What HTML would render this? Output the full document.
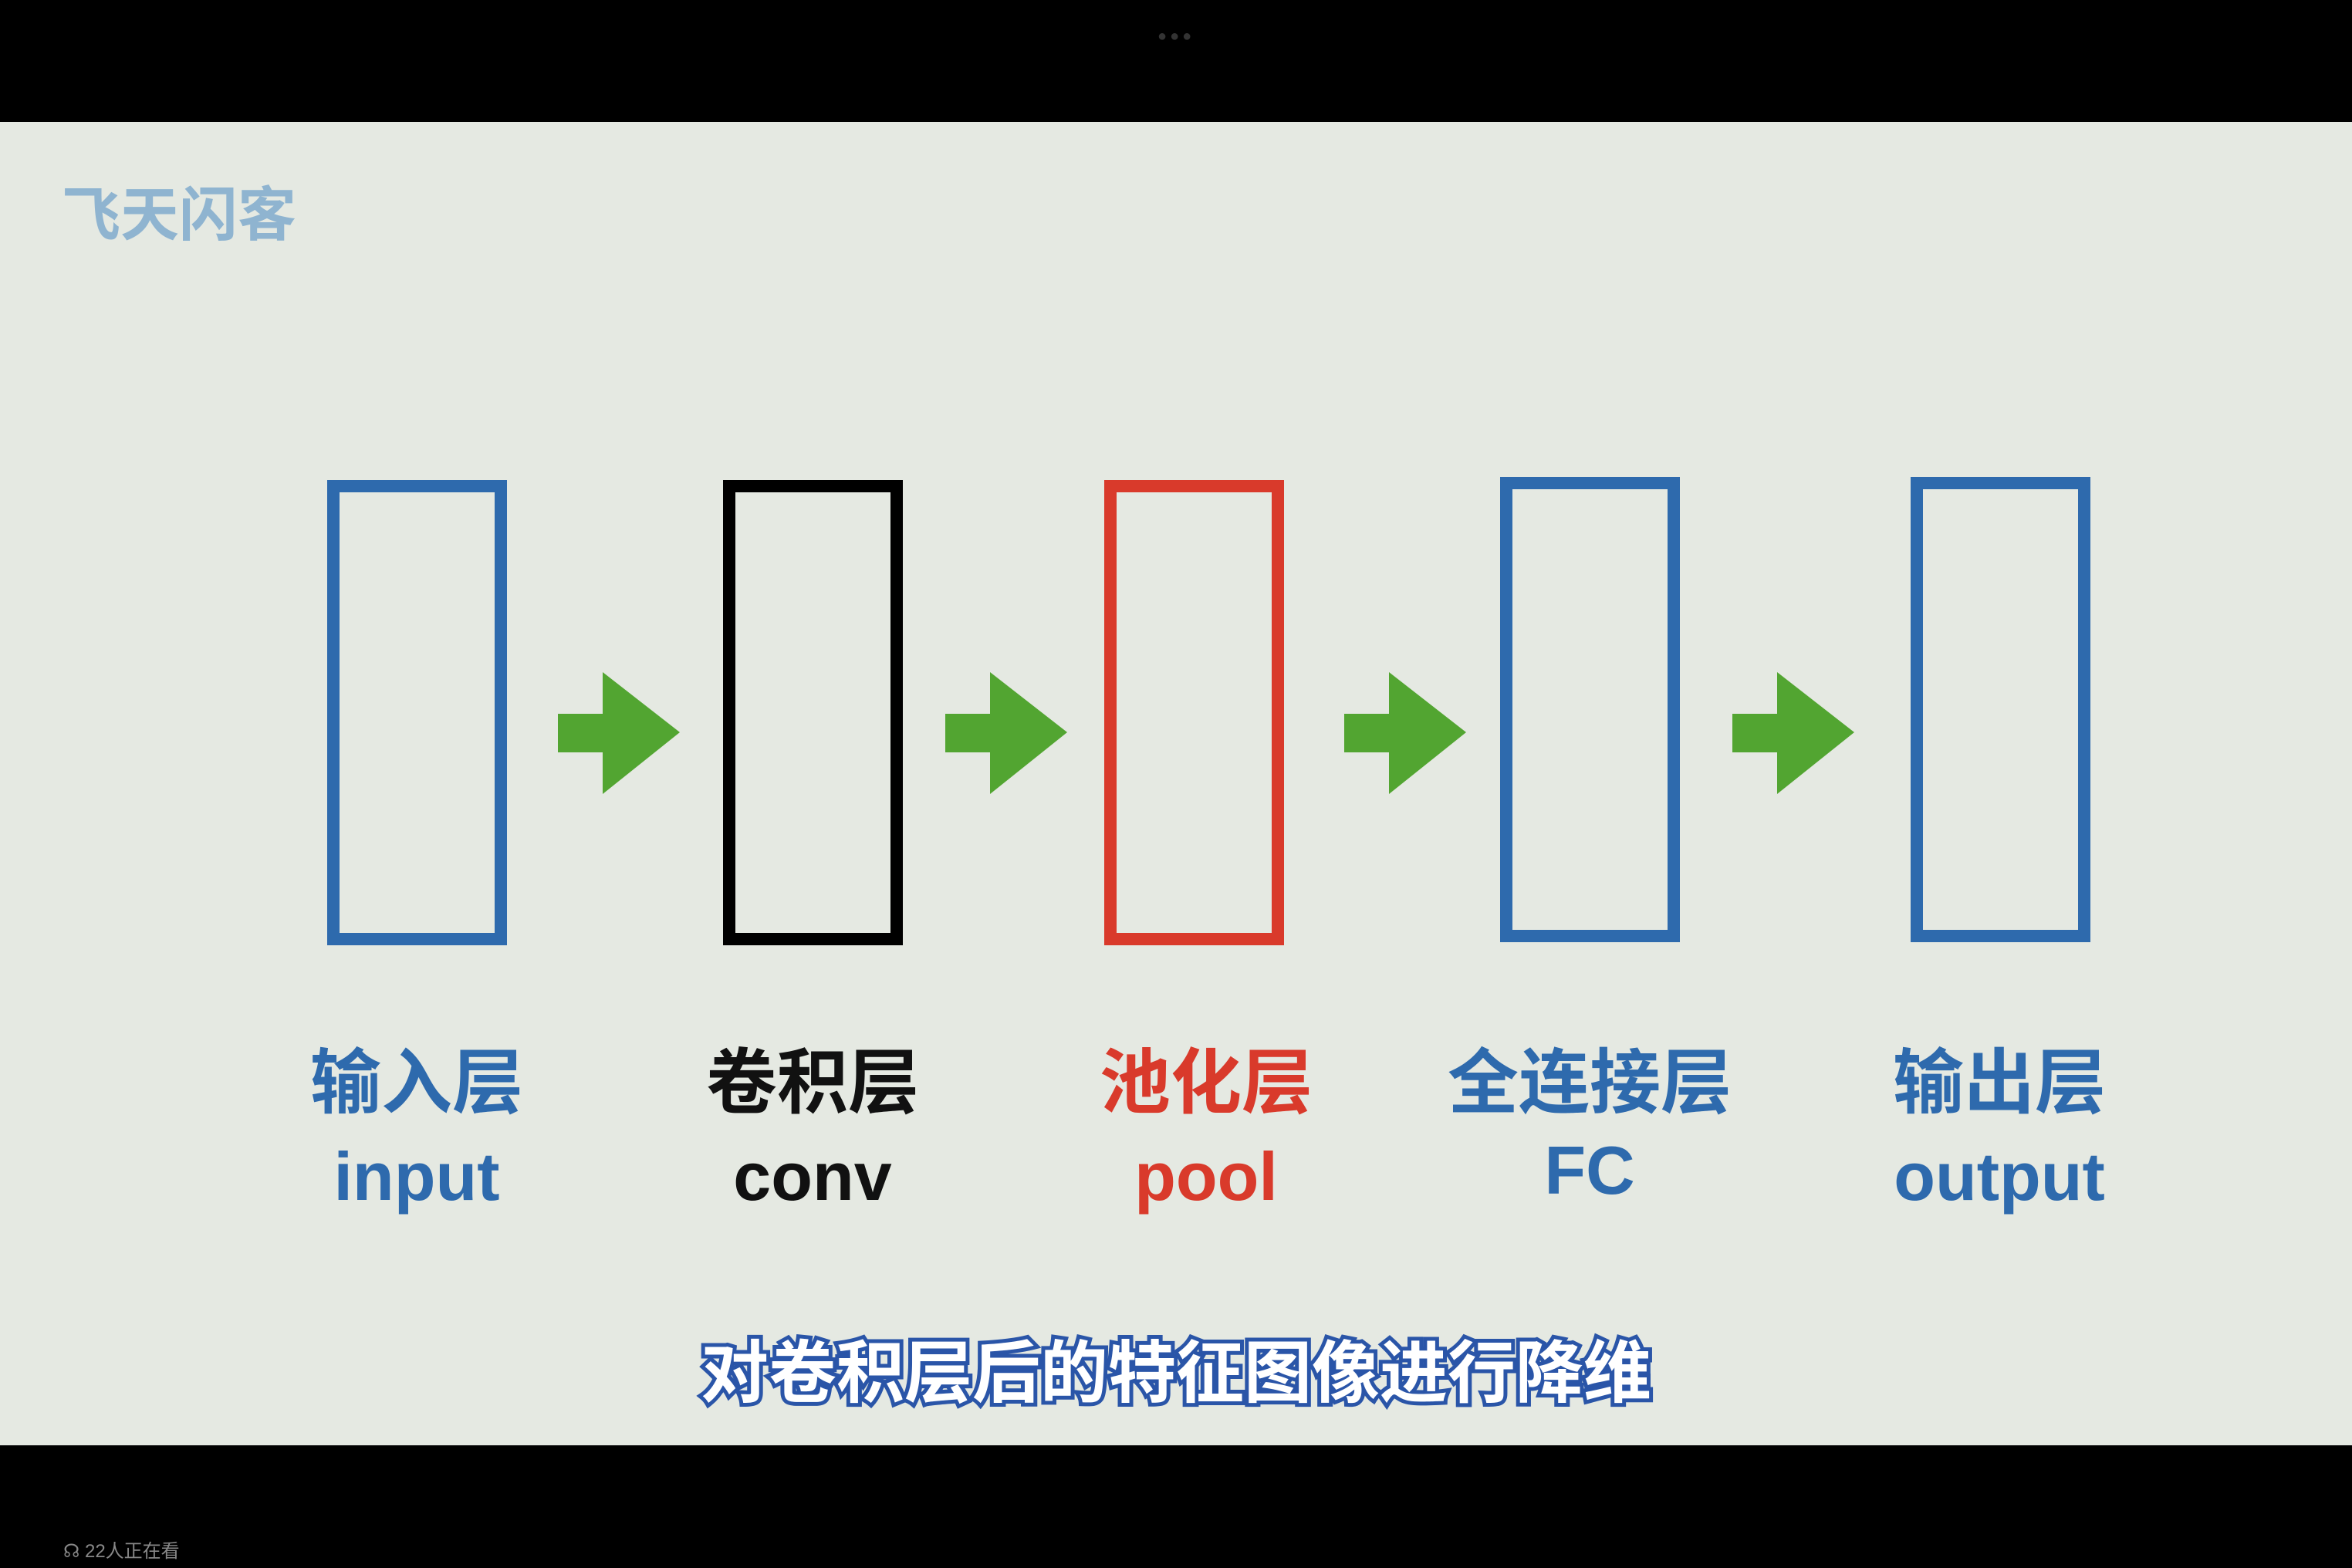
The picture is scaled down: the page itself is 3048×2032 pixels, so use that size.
<!DOCTYPE html>
<html><head><meta charset="utf-8"><style>
html,body{margin:0;padding:0}
body{width:3048px;height:2032px;background:#000;position:relative;overflow:hidden;font-family:"Liberation Sans","Noto Sans CJK SC",sans-serif}
.bg{position:absolute;left:0;top:158px;width:3048px;height:1715px;background:#e5e9e2}
.box{position:absolute;top:622px;width:201px;height:571px;border:16px solid #2e6aad}
.arr{position:absolute;top:871px}
.t{position:absolute;width:600px;text-align:center;font-weight:bold;font-family:"Noto Sans CJK SC","WenQuanYi Zen Hei",sans-serif}
.cn{top:1333px;font-size:92px;line-height:126px}
.en{top:1470px;font-size:88px;line-height:110px;font-family:"Liberation Sans","Noto Sans CJK SC",sans-serif}
.b{color:#2e6aad}.k{color:#111}.r{color:#d93a2b}
</style></head><body>
<div class="bg"></div>
<div style="position:absolute;left:1500px;top:36px;color:#333;font-size:20px;letter-spacing:4px">●●●</div>
<div style="position:absolute;left:80px;top:222px;font-size:76px;line-height:100px;color:#8fb4d0;font-weight:bold;font-family:'Noto Sans CJK SC',sans-serif">飞天闪客</div>

<div class="box" style="left:424px"></div>
<div class="box" style="left:937px;border-color:#000"></div>
<div class="box" style="left:1431px;border-color:#d93a2b"></div>
<div class="box" style="left:1944px;top:618px"></div>
<div class="box" style="left:2476px;top:618px"></div>

<svg class="arr" style="left:723px" width="160" height="158"><polygon points="0,54 58,54 58,0 158,78 58,158 58,104 0,104" fill="#52a531"/></svg>
<svg class="arr" style="left:1225px" width="160" height="158"><polygon points="0,54 58,54 58,0 158,78 58,158 58,104 0,104" fill="#52a531"/></svg>
<svg class="arr" style="left:1742px" width="160" height="158"><polygon points="0,54 58,54 58,0 158,78 58,158 58,104 0,104" fill="#52a531"/></svg>
<svg class="arr" style="left:2245px" width="160" height="158"><polygon points="0,54 58,54 58,0 158,78 58,158 58,104 0,104" fill="#52a531"/></svg>

<div class="t cn b" style="left:240px">输入层</div>
<div class="t cn k" style="left:753px">卷积层</div>
<div class="t cn r" style="left:1263px">池化层</div>
<div class="t cn b" style="left:1760px">全连接层</div>
<div class="t cn b" style="left:2291px">输出层</div>

<div class="t en b" style="left:240px">input</div>
<div class="t en k" style="left:753px">conv</div>
<div class="t en r" style="left:1263px">pool</div>
<div class="t en b" style="left:1760px;top:1462px">FC</div>
<div class="t en b" style="left:2291px">output</div>

<div style="position:absolute;left:0;width:3048px;text-align:center;top:1713px;font-size:88px;line-height:120px;font-weight:bold;color:#fff;font-family:'Noto Sans CJK SC',sans-serif;-webkit-text-stroke:10px #2a55a8;paint-order:stroke fill">对卷积层后的特征图像进行降维</div>

<div style="position:absolute;left:82px;top:1990px;font-size:24px;color:#888">☊ 22人正在看</div>
</body></html>
